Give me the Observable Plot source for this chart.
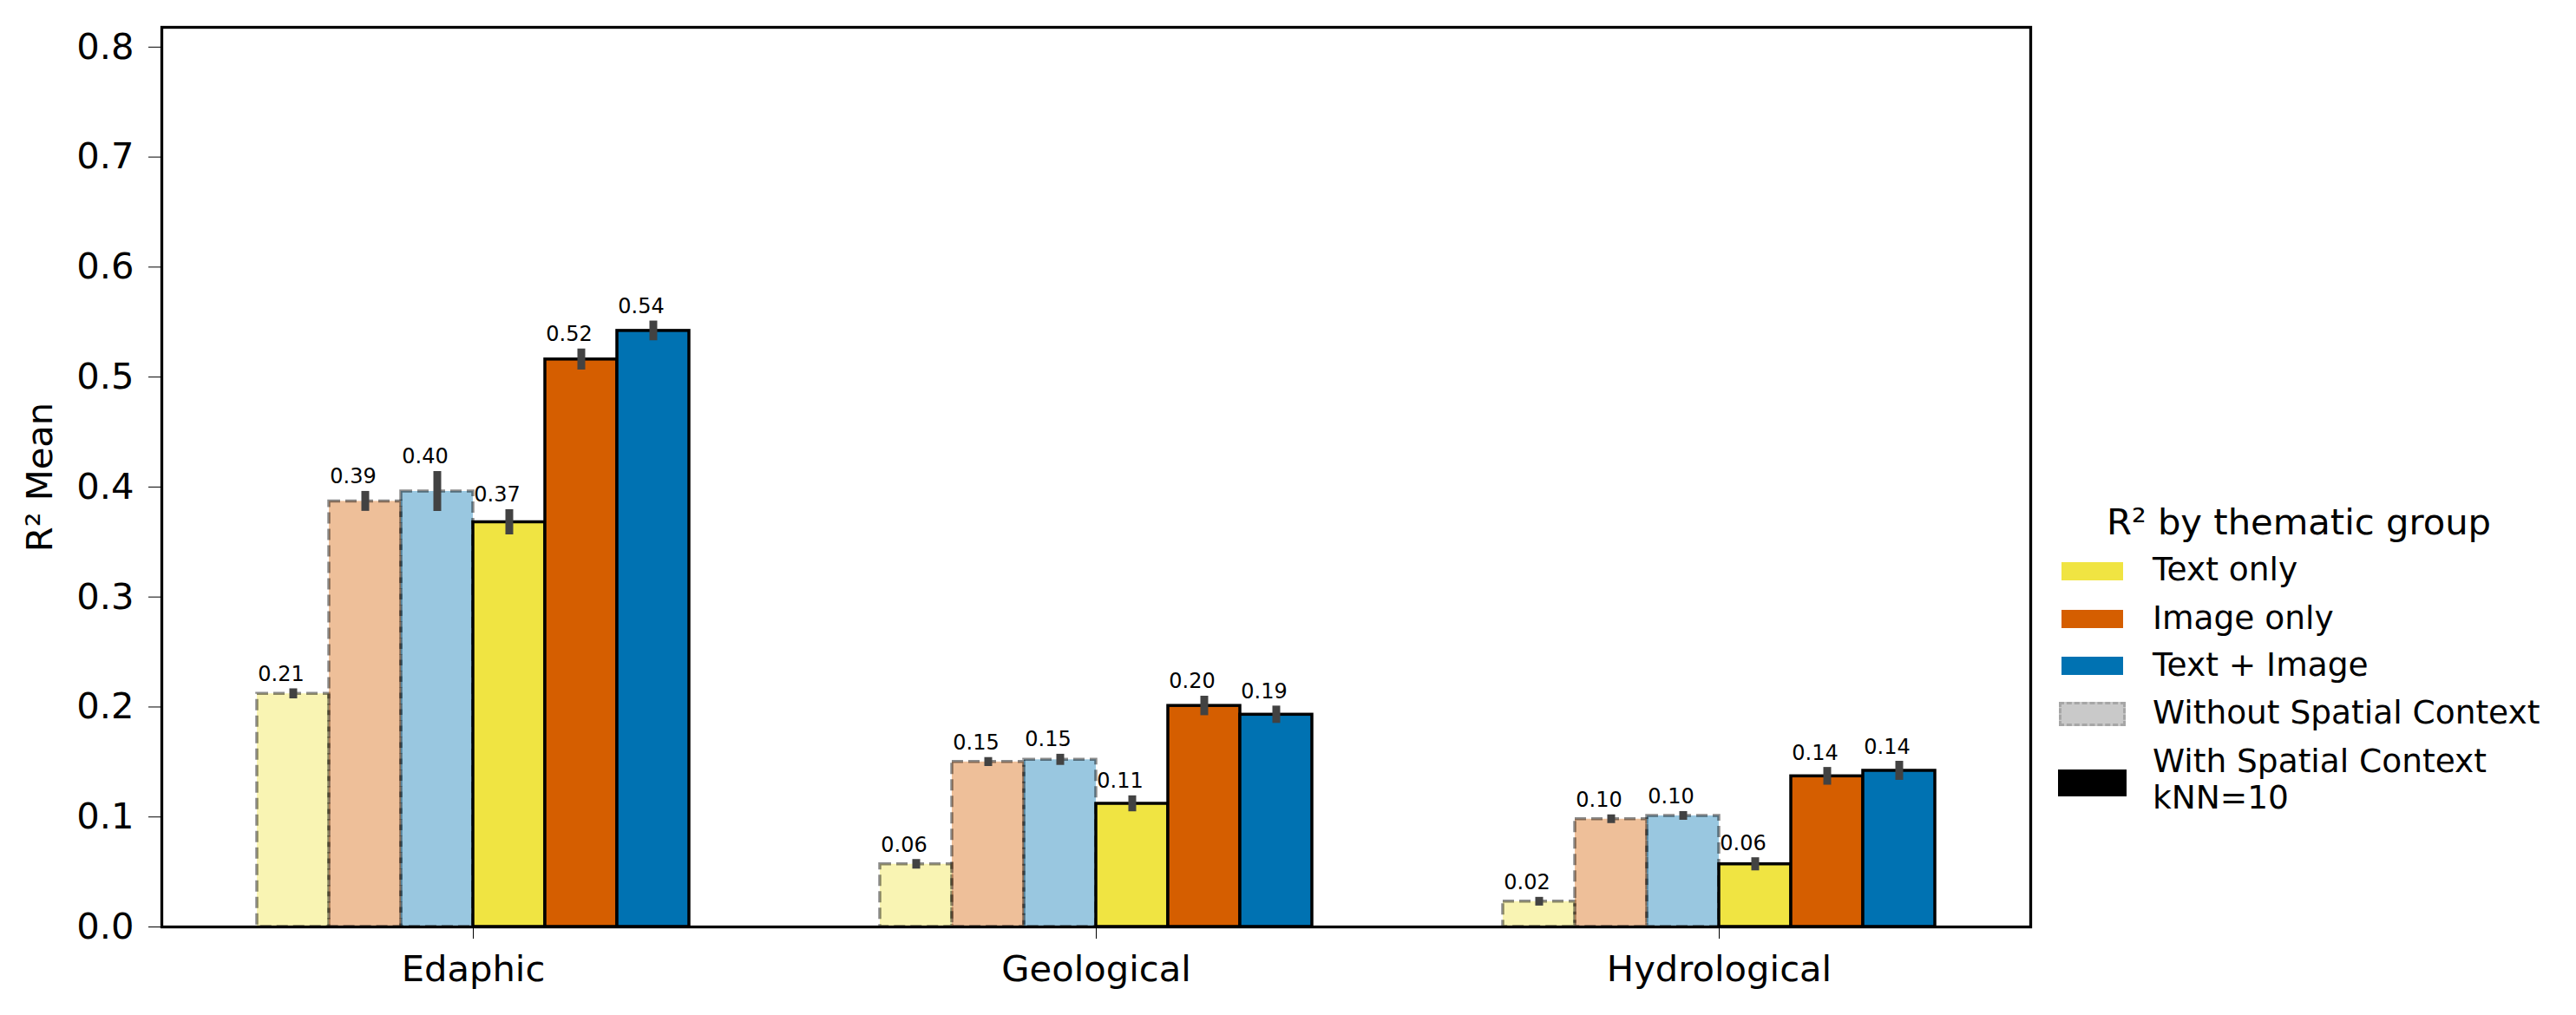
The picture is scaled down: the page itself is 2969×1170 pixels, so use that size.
<!DOCTYPE html>
<html><head><meta charset="utf-8">
<script src="https://cdn.jsdelivr.net/npm/d3@7"></script>
<script src="https://cdn.jsdelivr.net/npm/@observablehq/plot@0.6"></script>
<style>
html,body{margin:0;padding:0;background:#fff;}
#wrap{position:relative;width:2969px;height:1170px;font-family:"DejaVu Sans",sans-serif;background:#fff;}
#wrap svg{position:absolute;left:0;top:0;}
.lg{position:absolute;font-family:"DejaVu Sans",sans-serif;color:#000;white-space:nowrap;line-height:1;}
.sw{position:absolute;box-sizing:border-box;}
</style></head><body><div id="wrap"></div>
<script>
// ---- data ----
const categories = ["Edaphic", "Geological", "Hydrological"];
const modalities = ["Text only", "Image only", "Text + Image"];
const contexts = ["Without Spatial Context", "With Spatial Context"];
const contextLegendLabels = ["Without Spatial Context", "With Spatial Context\nkNN=10"];
const modalityColors = ["#F0E442", "#D55E00", "#0072B2"];
const yTicks = [0, 0.1, 0.2, 0.3, 0.4, 0.5, 0.6, 0.7, 0.8];
const legendTitle = "R² by thematic group";
const yLabel = "R² Mean";

const textOnlyWithout  = [0.212, 0.057, 0.023];
const imageOnlyWithout = [0.387, 0.150, 0.098];
const textImageWithout = [0.396, 0.152, 0.101];
const textOnlyWith     = [0.368, 0.112, 0.057];
const imageOnlyWith    = [0.516, 0.201, 0.137];
const textImageWith    = [0.542, 0.193, 0.142];

const textOnlyWithoutErr  = [0.0010, 0.0008, 0.0004];
const imageOnlyWithoutErr = [0.0055, 0.0005, 0.0004];
const textImageWithoutErr = [0.0146, 0.0015, 0.0004];
const textOnlyWithErr     = [0.0079, 0.0037, 0.0024];
const imageOnlyWithErr    = [0.0060, 0.0053, 0.0045];
const textImageWithErr    = [0.0054, 0.0043, 0.0051];

// ---- table ----
const seriesDefs = [
  [contexts[0], modalities[0], textOnlyWithout, textOnlyWithoutErr],
  [contexts[0], modalities[1], imageOnlyWithout, imageOnlyWithoutErr],
  [contexts[0], modalities[2], textImageWithout, textImageWithoutErr],
  [contexts[1], modalities[0], textOnlyWith, textOnlyWithErr],
  [contexts[1], modalities[1], imageOnlyWith, imageOnlyWithErr],
  [contexts[1], modalities[2], textImageWith, textImageWithErr]
];
const seriesKeys = seriesDefs.map(([c, m]) => c + " | " + m);
const rows = [];
categories.forEach((cat, i) => {
  seriesDefs.forEach(([c, m, vals, errs]) => {
    rows.push({category: cat, context: c, modality: m, key: c + " | " + m, mean: vals[i], err: errs[i]});
  });
});
const rowsWithout = rows.filter(d => d.context === contexts[0]);
const rowsWith = rows.filter(d => d.context === contexts[1]);

const FONT = "DejaVu Sans";
// group of 6 bars occupies 0.7 of each category slot
const groupShare = 0.7;
const innerOuterPad = (seriesKeys.length / groupShare - seriesKeys.length) / 2;

const chart = Plot.plot({
  width: 2969,
  height: 1170,
  marginLeft: 185,
  marginRight: 629,
  marginTop: 31,
  marginBottom: 102,
  style: {fontFamily: FONT, fontSize: "41.7px", background: "white", color: "black"},
  fx: {domain: categories, paddingInner: 0, paddingOuter: 0, label: null},
  x: {domain: seriesKeys, paddingInner: 0, paddingOuter: innerOuterPad, axis: null},
  y: {domain: [0, 0.818]},
  color: {domain: modalities, range: modalityColors},
  marks: [
    Plot.barY(rowsWithout, {fx: "category", x: "key", y: "mean", fill: "modality", fillOpacity: 0.4,
      stroke: "black", strokeOpacity: 0.45, strokeWidth: 3.5, strokeDasharray: "13,6", inset: 0}),
    Plot.barY(rowsWith, {fx: "category", x: "key", y: "mean", fill: "modality",
      stroke: "black", strokeWidth: 3.5, inset: 0}),
    Plot.ruleX(rows, {fx: "category", x: "key", y1: d => d.mean - d.err, y2: d => d.mean + d.err,
      stroke: "#424242", strokeWidth: 9, strokeLinecap: "square"}),
    Plot.text(rows, {fx: "category", x: "key", y: d => d.mean + d.err, text: d => d3.format(".2f")(d.mean),
      lineAnchor: "bottom", dy: -13.5, dx: -14, fontSize: 24, fill: "black"}),
    Plot.axisY({ticks: yTicks, tickFormat: d3.format(".1f"), tickSize: 15, tickPadding: 17, fontSize: 41.7,
      label: yLabel, labelAnchor: "center", labelArrow: "none", labelOffset: 156}),
    Plot.axisFx({anchor: "bottom", tickSize: 14, tickPadding: 19, fontSize: 41.7, label: null}),
    Plot.frame({facet: "super", stroke: "black", strokeWidth: 3.3})
  ]
});

const wrap = document.getElementById("wrap");
wrap.appendChild(chart);

// ---- legend (HTML, right of the plot) ----
function addText(txt, left, top, size, extra) {
  const d = document.createElement("div");
  d.className = "lg";
  d.style.left = left + "px";
  d.style.top = top + "px";
  d.style.fontSize = size + "px";
  if (extra) Object.assign(d.style, extra);
  d.textContent = txt;
  wrap.appendChild(d);
  return d;
}
function addSwatch(left, top, w, h, style) {
  const s = document.createElement("div");
  s.className = "sw";
  s.style.left = left + "px";
  s.style.top = top + "px";
  s.style.width = w + "px";
  s.style.height = h + "px";
  Object.assign(s.style, style);
  wrap.appendChild(s);
}
addText(legendTitle, 2372, 581, 41.7, {width: "555px", textAlign: "center"});
const rowTops = [638, 694, 748];
const swTops = [648, 703, 757];
modalities.forEach((m, i) => {
  addSwatch(2376, swTops[i], 71, 21, {background: modalityColors[i]});
  addText(m, 2481, rowTops[i], 37.5);
});
addSwatch(2373, 809, 77, 28, {background: "#c9c9c9", border: "3px dashed #a6a6a6"});
addText(contextLegendLabels[0], 2481, 803, 37.5);
addSwatch(2372, 887, 79, 31, {background: "#000"});
addText(contextLegendLabels[1], 2481, 856, 37.5, {whiteSpace: "pre", lineHeight: "42px"});
</script>
</body></html>
